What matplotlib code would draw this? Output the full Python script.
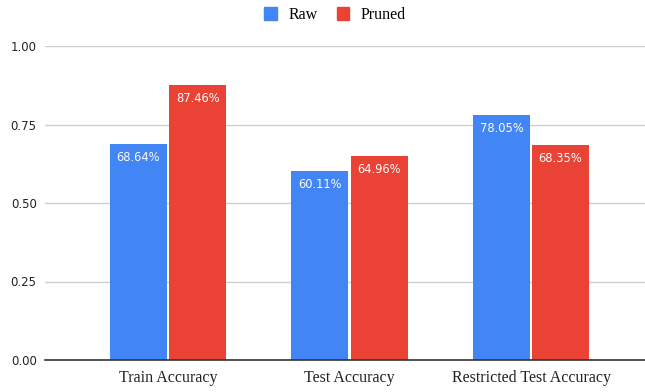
import numpy as np
import matplotlib.pyplot as plt
from matplotlib.patches import Patch

categories = ['Train Accuracy', 'Test Accuracy', 'Restricted Test Accuracy']
raw = [0.6864, 0.6011, 0.7805]
pruned = [0.8746, 0.6496, 0.6835]
series_names = ['Raw', 'Pruned']
yticks = [0.0, 0.25, 0.5, 0.75, 1.0]

BLUE = '#4285F4'
RED = '#EA4335'

fig = plt.figure(figsize=(6.45, 3.92), dpi=100)
ax = fig.add_axes([45 / 645, 1 - 360 / 392, 600 / 645, 314 / 392])

x = np.arange(len(categories))
w = 0.314
gap = 0.006
b1 = ax.bar(x - w / 2 - gap, raw, w, color=BLUE, zorder=3)
b2 = ax.bar(x + w / 2 + gap, pruned, w, color=RED, zorder=3)

# value labels just inside the top of each bar
for bars, vals in ((b1, raw), (b2, pruned)):
    for rect, v in zip(bars, vals):
        ax.annotate(f'{v * 100:.2f}%',
                    (rect.get_x() + rect.get_width() / 2, v),
                    xytext=(0, -9.5), textcoords='offset points',
                    ha='center', va='center', color='#fdfdfd',
                    fontsize=8.3, family='DejaVu Sans', zorder=4)

ax.set_xlim(-0.678, 2.628)
ax.set_ylim(0, 1.0)
ax.set_yticks(yticks)
ax.set_yticklabels([f'{t:.2f}' for t in yticks], fontsize=8.5,
                   family='DejaVu Sans', color='#222222')
ax.set_xticks(x)
ax.set_xticklabels(categories, fontsize=11.5, family='Liberation Serif',
                   color='#222222')
ax.tick_params(axis='both', length=0)
ax.tick_params(axis='y', pad=6)
ax.tick_params(axis='x', pad=7.5)

ax.grid(axis='y', color='#d0d0d0', linewidth=1, zorder=0)
for s in ('top', 'right', 'left'):
    ax.spines[s].set_visible(False)
ax.spines['bottom'].set_color('#333333')
ax.spines['bottom'].set_linewidth(1.2)
ax.spines['bottom'].set_zorder(5)

handles = [Patch(facecolor=BLUE, edgecolor=BLUE),
           Patch(facecolor=RED, edgecolor=RED)]
fig.legend(handles, series_names, loc='center', bbox_to_anchor=(335 / 645, 1 - 15 / 392),
           ncol=2, frameon=False, handlelength=0.8, handleheight=0.8,
           handletextpad=0.7, columnspacing=1.2,
           prop={'family': 'Liberation Serif', 'size': 11.5})

fig.savefig('out.png', dpi=100)
